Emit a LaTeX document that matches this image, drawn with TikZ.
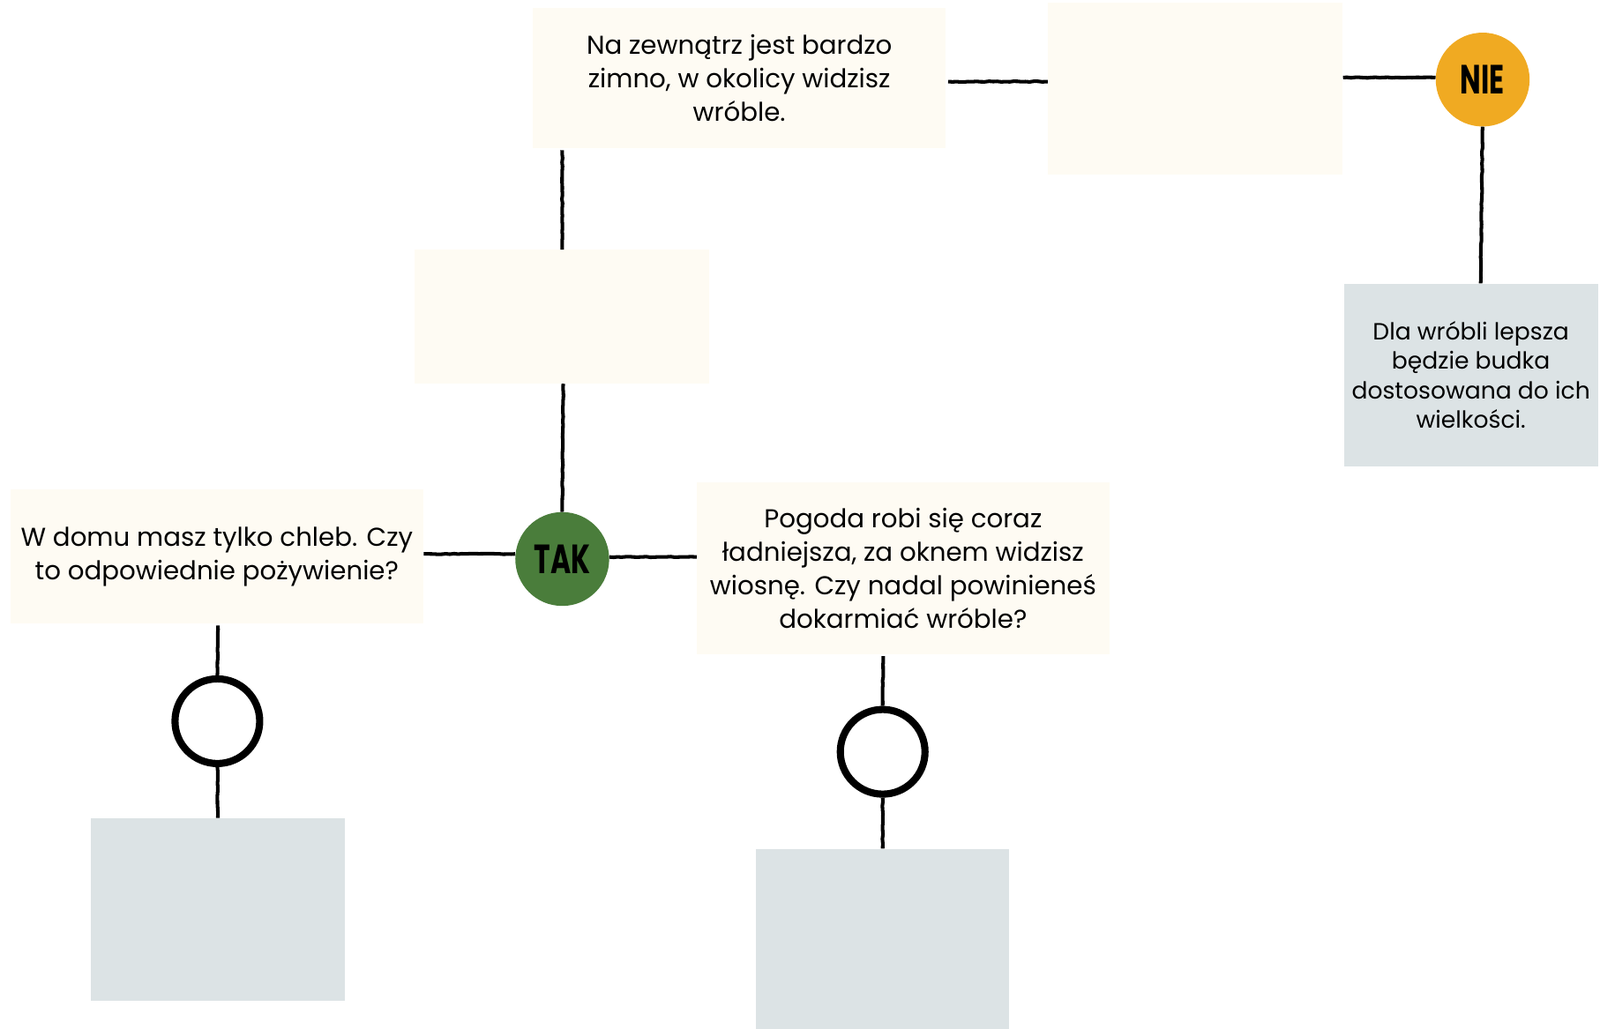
\documentclass[tikz,border=0pt]{standalone}
\usepackage{fontspec}
\usetikzlibrary{decorations.pathmorphing}
\setmainfont{Poppins}
\definecolor{creamc}{RGB}{254,251,243}
\definecolor{grayc}{RGB}{220,227,229}
\definecolor{orangec}{RGB}{240,170,34}
\definecolor{greenc}{RGB}{74,125,59}
\tikzset{
  qbox/.style={rectangle, fill=creamc, inner sep=0pt, align=center, font=\fontsize{25.3}{33}\selectfont},
  abox/.style={rectangle, fill=grayc, inner sep=0pt, align=center, font=\fontsize{23}{29}\selectfont},
  badge/.style={circle, inner sep=0pt, minimum size=92pt, font=\fontsize{40}{40}\selectfont\bfseries},
  ring/.style={circle, draw=black, line width=7pt, fill=white, inner sep=0pt, minimum size=83pt},
  link/.style={line width=3.5pt, black, decorate, decoration={random steps, segment length=4pt, amplitude=0.35pt}}
}
\newcommand{\cond}[1]{\scalebox{0.68}[1]{#1}}
\begin{document}
\begin{tikzpicture}[x=1pt,y=-1pt]
\useasboundingbox (0,0) rectangle (1568,1008);
% boxes
\node[qbox, minimum width=405pt, minimum height=137pt] (A) at (724.5,76.5)
  {Na zewnątrz jest bardzo\\zimno, w okolicy widzisz\\wróble.};
\node[qbox, minimum width=289pt, minimum height=168pt] (B) at (1171.5,87) {};
\node[badge, fill=orangec] (NIE) at (1453,78) {\cond{NIE}};
\node[abox, minimum width=249pt, minimum height=179pt] (C) at (1441.5,367.5)
  {Dla wróbli lepsza\\będzie budka\\dostosowana do ich\\wielkości.};
\node[qbox, minimum width=289pt, minimum height=131pt] (D) at (550.5,310.5) {};
\node[badge, fill=greenc] (TAK) at (551,548) {\cond{TAK}};
\node[qbox, minimum width=405pt, minimum height=131pt] (E) at (212.5,545.5)
  {W domu masz tylko chleb. Czy\\to odpowiednie pożywienie?};
\node[qbox, minimum width=404pt, minimum height=168pt] (F) at (885,557)
  {Pogoda robi się coraz\\ładniejsza, za oknem widzisz\\wiosnę. Czy nadal powinieneś\\dokarmiać wróble?};
\node[ring] (G) at (213,707) {};
\node[ring] (H) at (865,737) {};
\node[abox, minimum width=249pt, minimum height=179pt] (I) at (213.5,891.5) {};
\node[abox, minimum width=248pt, minimum height=178pt] (J) at (865,921) {};
% connectors
\draw[link] (A.east |- 0,80) ++(2,0) -- (B.west |- 0,80);
\draw[link] (B.east |- 0,76) -- (NIE.west |- 0,76);
\draw[link] (NIE.south) -- (C.north -| 1451,0);
\draw[link] (A.south -| 551,0) ++(0,2) -- (D.north -| 551,0);
\draw[link] (D.south -| 552,0) -- (TAK.north);
\draw[link] (TAK.west |- 0,543) -- (E.east |- 0,543) ++(2,0);
\draw[link] (TAK.east |- 0,546) -- (F.west |- 0,546);
\draw[link] (E.south -| 213.5,0) ++(0,2) -- (G.north);
\draw[link] (G.south) -- (I.north);
\draw[link] (F.south -| 865.5,0) ++(0,2) -- (H.north);
\draw[link] (H.south) -- (J.north);
\end{tikzpicture}
\end{document}
